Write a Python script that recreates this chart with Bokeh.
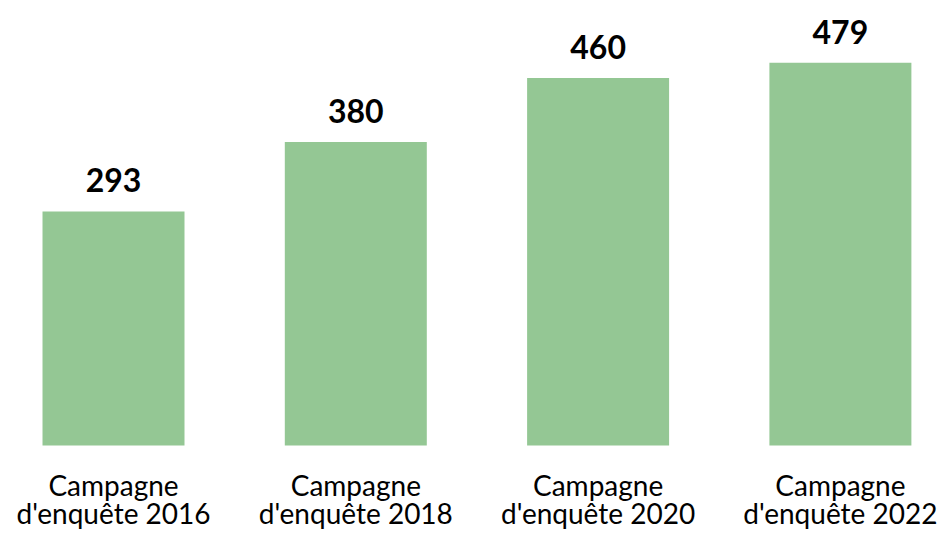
from bokeh.plotting import figure
from bokeh.models import ColumnDataSource, Range1d
from bokeh.core.properties import value
from bokeh.embed import file_html
from bokeh.resources import INLINE

line1 = ["Campagne", "Campagne", "Campagne", "Campagne"]
line2 = ["d'enquête 2016", "d'enquête 2018", "d'enquête 2020", "d'enquête 2022"]
counts = [293, 380, 460, 479]

xs = list(range(len(counts)))
src = ColumnDataSource(dict(
    x=xs,
    top=counts,
    zero=[0] * len(counts),
    lbl=[str(c) for c in counts],
    l1=line1,
    l2=line2,
))

p = figure(width=939, height=530, output_backend="svg", toolbar_location=None,
           x_range=Range1d(-0.4664, 3.409), y_range=Range1d(-106.3, 557),
           min_border=0)
p.outline_line_color = None
p.axis.visible = False
p.grid.visible = False
p.background_fill_color = "white"

p.vbar(x="x", top="top", bottom=0, width=0.586, source=src,
       fill_color="#94C794", line_color=None)

p.text(x="x", y="top", text="lbl", source=src,
       text_font=value("Lato"), text_font_style="bold", text_font_size="32px",
       text_color="black", text_align="center", text_baseline="alphabetic",
       y_offset=-31)

p.text(x="x", y="zero", text="l1", source=src,
       text_font=value("Lato"), text_font_size="28px",
       text_color="black", text_align="center", text_baseline="alphabetic",
       y_offset=39)
p.text(x="x", y="zero", text="l2", source=src,
       text_font=value("Lato"), text_font_size="28px",
       text_color="black", text_align="center", text_baseline="alphabetic",
       y_offset=67)

open("out.html", "w").write(file_html(p, INLINE))
